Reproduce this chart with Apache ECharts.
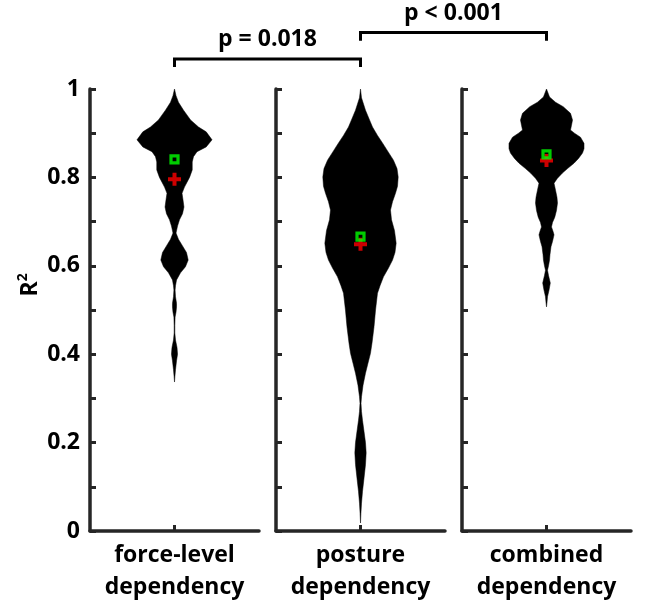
<!DOCTYPE html>
<html>
<head>
<meta charset="utf-8">
<script src="https://cdn.jsdelivr.net/npm/echarts@6/dist/echarts.min.js"></script>
<style>html,body{margin:0;padding:0;background:#fff}#c{width:646px;height:610px}</style>
</head>
<body>
<div id="c"></div>
<script>
// ---- data ----
const categories = ['force-level\ndependency', 'posture\ndependency', 'combined\ndependency'];
const yTicks = [0, 0.2, 0.4, 0.6, 0.8, 1];

// violin profiles: R² value and half-width (x-axis units, panel spans -1..1)
const forceVals = [1.0,0.985,0.97,0.952,0.93,0.914,0.903,0.885,0.869,0.858,0.847,0.835,0.817,0.80,0.778,0.764,0.75,0.733,0.718,0.704,0.69,0.674,0.66,0.645,0.63,0.613,0.598,0.584,0.568,0.555,0.545,0.53,0.515,0.507,0.495,0.484,0.465,0.448,0.432,0.415,0.40,0.385,0.365,0.35,0.337];
const forceHalf = [0,0.018,0.047,0.107,0.19,0.284,0.375,0.444,0.375,0.266,0.225,0.21,0.21,0.178,0.118,0.089,0.1,0.112,0.095,0.059,0.036,0.018,0.047,0.095,0.142,0.162,0.13,0.071,0.024,0.012,0.007,0.012,0.024,0.024,0.018,0.007,0.004,0.004,0.012,0.03,0.036,0.024,0.012,0.005,0];

const postureVals = [1.0,0.98,0.952,0.93,0.914,0.895,0.878,0.86,0.839,0.82,0.801,0.78,0.764,0.745,0.726,0.704,0.68,0.651,0.63,0.613,0.595,0.575,0.555,0.538,0.5,0.462,0.425,0.402,0.38,0.357,0.33,0.304,0.289,0.27,0.25,0.229,0.2,0.177,0.15,0.115,0.09,0.063,0.04,0.018];
const postureHalf = [0,0.012,0.059,0.107,0.142,0.201,0.26,0.32,0.39,0.432,0.446,0.438,0.414,0.379,0.355,0.367,0.402,0.422,0.408,0.379,0.331,0.272,0.231,0.201,0.178,0.16,0.136,0.118,0.089,0.059,0.03,0.012,0.006,0.012,0.024,0.039,0.059,0.067,0.059,0.039,0.024,0.012,0.005,0];

const combinedVals = [1.0,0.982,0.97,0.96,0.945,0.93,0.918,0.907,0.9,0.891,0.877,0.865,0.855,0.843,0.832,0.82,0.81,0.798,0.787,0.771,0.755,0.742,0.725,0.71,0.698,0.688,0.678,0.67,0.655,0.643,0.625,0.613,0.60,0.59,0.578,0.561,0.545,0.53,0.515,0.507];
const combinedHalf = [0,0.036,0.107,0.198,0.284,0.308,0.296,0.284,0.331,0.402,0.444,0.444,0.426,0.379,0.325,0.249,0.189,0.13,0.089,0.107,0.124,0.13,0.118,0.098,0.071,0.059,0.077,0.089,0.071,0.053,0.041,0.036,0.024,0.012,0.024,0.045,0.03,0.012,0.005,0];

const medians = [0.841, 0.666, 0.852];  // green squares
const means = [0.796, 0.649, 0.838];    // red plus
const comparisons = [[0, 1, 'p = 0.018'], [1, 2, 'p < 0.001']];

const profiles = [[forceVals, forceHalf], [postureVals, postureHalf], [combinedVals, combinedHalf]];

// ---- layout / style ----
const FONT = '"Open Sans"';
const AX = '#262626';
const lefts = [90, 276, 462];
const bracketLevels = [[1.068, 1.050], [1.128, 1.109]];

const chart = echarts.init(document.getElementById('c'), null, {renderer: 'canvas'});

const grids = lefts.map(l => ({left: l, top: 89, width: 169, height: 442, containLabel: false}));
const xAxes = categories.map((c, i) => ({
  type: 'value', gridIndex: i, min: -1, max: 1,
  splitLine: {show: false},
  axisLine: {show: true, onZero: false, lineStyle: {color: AX, width: 3.5}},
  axisTick: {show: true, inside: true, length: 6, customValues: [0], lineStyle: {color: AX, width: 3}},
  axisLabel: {show: true, customValues: [0], formatter: () => c, color: '#000', fontFamily: 'Open Sans', fontWeight: 'bold', fontSize: 23, lineHeight: 32, margin: 8}
}));
const yAxes = categories.map((c, i) => ({
  type: 'value', gridIndex: i, min: 0, max: 1, interval: 0.2,
  splitLine: {show: false},
  axisLine: {show: true, onZero: false, lineStyle: {color: AX, width: 3.5}},
  axisTick: {show: true, inside: true, length: 6, lineStyle: {color: AX, width: 3}},
  minorTick: {show: true, splitNumber: 2, length: 6, lineStyle: {color: AX, width: 3}},
  axisLabel: {show: i === 0, color: '#000', fontFamily: 'Open Sans', fontWeight: 'bold', fontSize: 23, margin: 10,
    formatter: v => yTicks.includes(Math.round(v * 10) / 10) ? String(Math.round(v * 10) / 10) : ''}
}));

const series = [];
profiles.forEach((p, i) => {
  const vals = p[0], half = p[1];
  series.push({
    type: 'custom', xAxisIndex: i, yAxisIndex: i, data: [[0, medians[i]]], silent: true,
    renderItem: (params, api) => {
      const pts = [];
      for (let k = 0; k < vals.length; k++) pts.push(api.coord([half[k], vals[k]]));
      for (let k = vals.length - 1; k >= 0; k--) pts.push(api.coord([-half[k], vals[k]]));
      return {type: 'polygon', shape: {points: pts}, style: {fill: '#000', stroke: '#000', lineWidth: 0.5}};
    }
  });
});
categories.forEach((c, i) => {
  series.push({
    type: 'scatter', xAxisIndex: i, yAxisIndex: i, data: [[0, means[i]]],
    symbol: 'path://M4.5,0H8.5V4.5H13V8.5H8.5V13H4.5V8.5H0V4.5H4.5Z', symbolSize: 13,
    itemStyle: {color: '#ff0000'}, z: 3
  });
});
categories.forEach((c, i) => {
  series.push({
    type: 'scatter', xAxisIndex: i, yAxisIndex: i, data: [[0, medians[i]]],
    symbol: 'rect', symbolSize: 7,
    itemStyle: {color: 'rgba(0,0,0,0)', borderColor: '#00ff00', borderWidth: 3.2}, z: 4
  });
});

chart.setOption({
  animation: false,
  grid: grids, xAxis: xAxes, yAxis: yAxes, series: series
});

// annotations: brackets and R² label
const graphics = [];
comparisons.forEach((cmp, j) => {
  const [a, b, label] = cmp;
  const [top, leg] = bracketLevels[j];
  const pa = chart.convertToPixel({gridIndex: a}, [0, top]);
  const pb = chart.convertToPixel({gridIndex: b}, [0, top]);
  const yl = chart.convertToPixel({gridIndex: a}, [0, leg])[1];
  graphics.push({
    type: 'polyline', shape: {points: [[pa[0], yl], [pa[0], pa[1]], [pb[0], pb[1]], [pb[0], yl]]},
    style: {stroke: '#000', lineWidth: 3, fill: null}
  });
  graphics.push({
    type: 'text', x: (pa[0] + pb[0]) / 2, y: pa[1] - 19,
    style: {text: label, fill: '#000', font: 'bold 23px ' + FONT, textAlign: 'center', textVerticalAlign: 'middle'}
  });
});
const rp = chart.convertToPixel({gridIndex: 0}, [-1, 0.557]);
graphics.push({
  type: 'text', x: 29, y: rp[1], rotation: Math.PI / 2,
  style: {text: '{b|R}{s|2}', textAlign: 'center', textVerticalAlign: 'middle',
    rich: {b: {fontSize: 23, lineHeight: 26, fontWeight: 'bold', fontFamily: 'Open Sans', fill: '#000', verticalAlign: 'bottom'},
           s: {fontSize: 14, lineHeight: 14, fontWeight: 'bold', fontFamily: 'Open Sans', fill: '#000', verticalAlign: 'top'}}}
});
chart.setOption({graphic: graphics});
</script>
</body>
</html>
